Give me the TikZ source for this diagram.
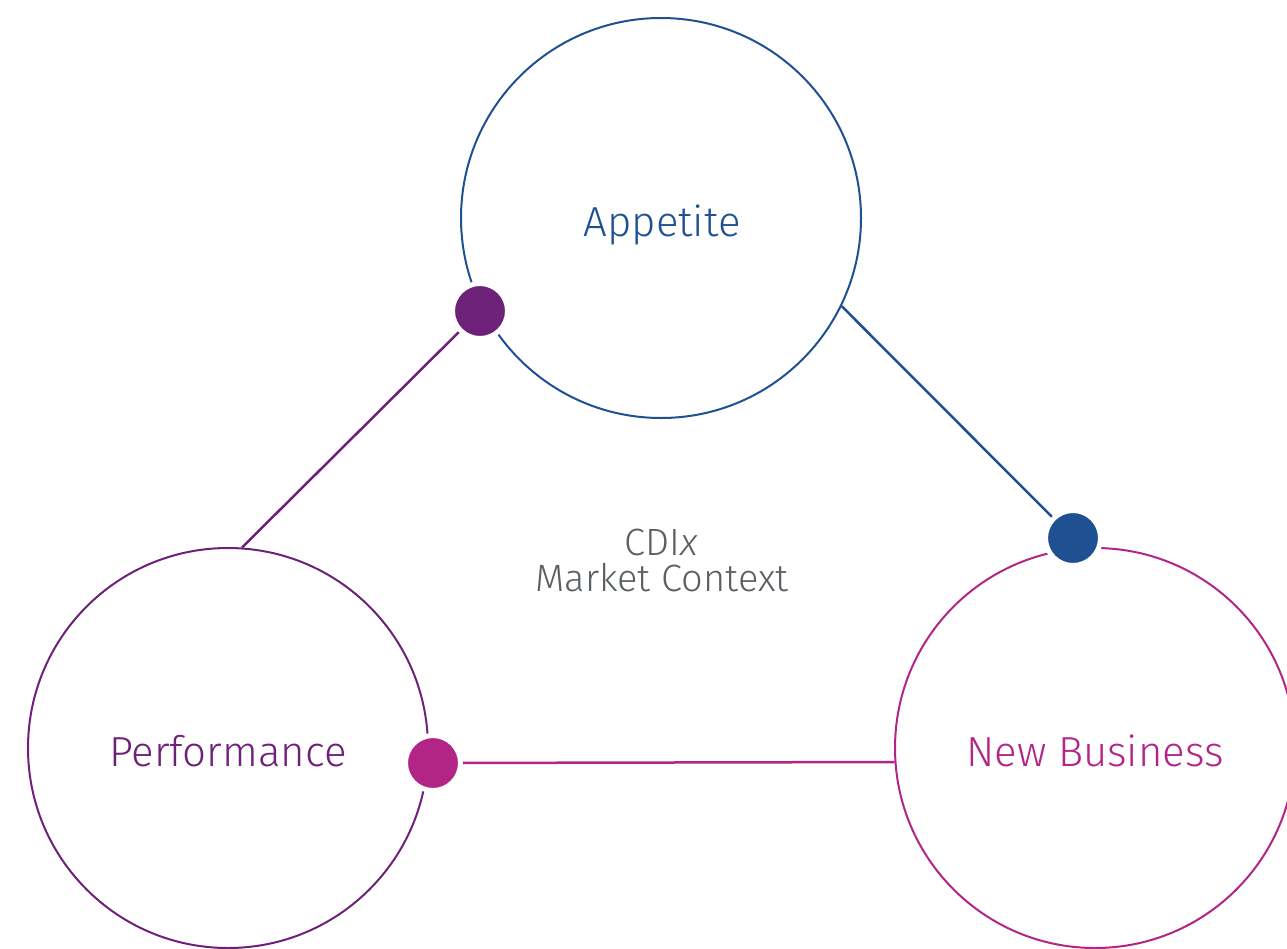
\documentclass[tikz,border=0pt]{standalone}
\usepackage{fontspec}
\setmainfont{Fira Sans}[UprightFont={* Light},ItalicFont={* Light Italic}]
\definecolor{cblue}{HTML}{1F5192}
\definecolor{cpurple}{HTML}{6E2178}
\definecolor{cmagenta}{HTML}{B32487}
\definecolor{cgrey}{HTML}{5A5F63}
\tikzset{
  bigcircle/.style={circle, draw=#1, line width=2pt, minimum size=400pt, inner sep=0pt},
  dotnode/.style={circle, fill=#1, draw=white, line width=5pt, minimum size=55pt, inner sep=0pt},
  link/.style={draw=#1, line width=2.5pt},
  lbl/.style={anchor=base, text=#1, font=\fontsize{42}{42}\selectfont, inner sep=0pt},
  midlbl/.style={anchor=base, text=cgrey, font=\fontsize{38}{38}\selectfont, inner sep=0pt},
}
\begin{document}
\begin{tikzpicture}[x=1pt,y=-1pt]
\useasboundingbox (0,0) rectangle (1287,948);
\node[bigcircle=cblue] (app) at (661,218) {};
\node[bigcircle=cpurple] (perf) at (228,748) {};
\node[bigcircle=cmagenta] (nb) at (1095,748) {};
\node[dotnode=cpurple] (dotP) at (480,311) {};
\node[dotnode=cblue] (dotB) at (1073,538) {};
\node[dotnode=cmagenta] (dotM) at (433,763) {};
\draw[link=cpurple] (dotP) -- (perf.86.5);
\draw[link=cblue] (app.-26) -- (dotB);
\draw[link=cmagenta] (dotM) -- (nb.184.3);
\node[lbl=cblue] (tA) at (662,236) {Appetite};
\node[lbl=cpurple] (tP) at (228,766) {Performance};
\node[lbl=cmagenta] (tN) at (1095,766) {New Business};
\node[midlbl] (tC) at (661.5,555) {CDI\textit{x}};
\node[midlbl] (tM) at (662,591) {Market Context};
\end{tikzpicture}
\end{document}
